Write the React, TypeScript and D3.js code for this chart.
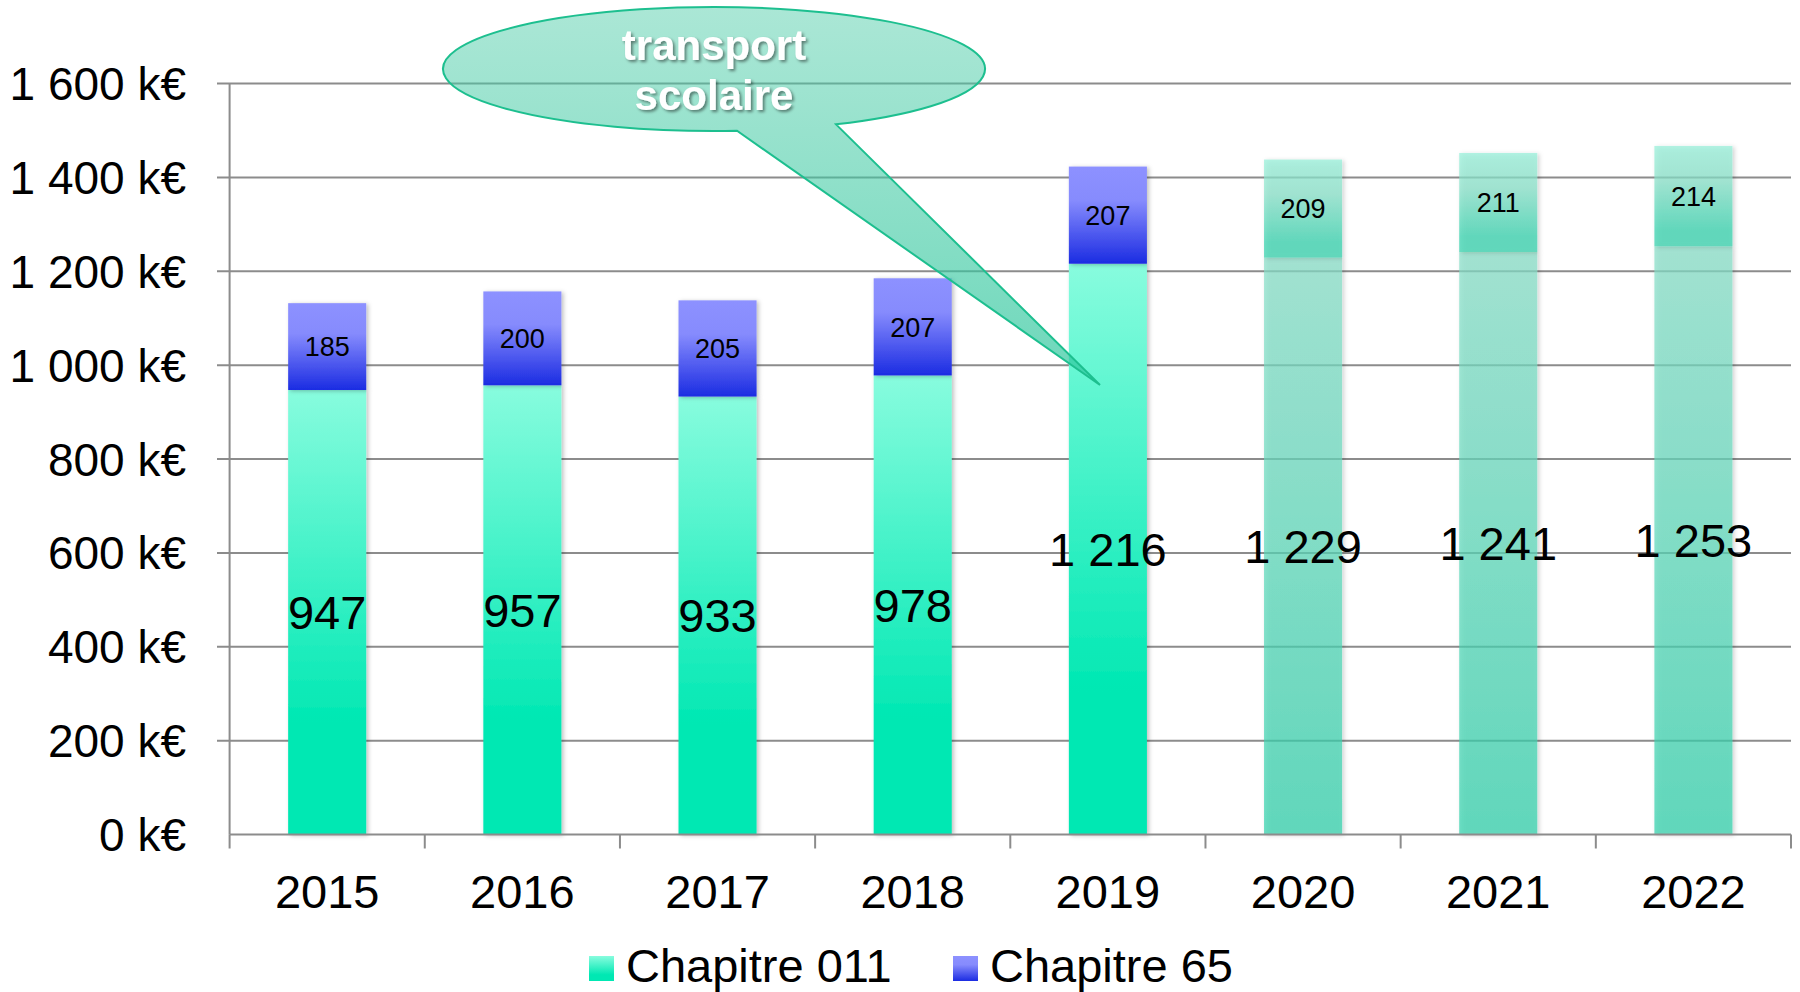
import { useEffect, useRef } from "react";
import * as d3 from "d3";

const years = ["2015", "2016", "2017", "2018", "2019", "2020", "2021", "2022"];
const projectedYears = ["2020", "2021", "2022"];
const chap011 = [947, 957, 933, 978, 1216, 1229, 1241, 1253];
const chap65 = [185, 200, 205, 207, 207, 209, 211, 214];
const yTicks = [0, 200, 400, 600, 800, 1000, 1200, 1400, 1600];
const seriesNames = ["Chapitre 011", "Chapitre 65"];
const calloutLines = ["transport", "scolaire"];

export default function App() {
  const svgRef = useRef<SVGSVGElement>(null);

  useEffect(() => {
    const W = 1800;
    const H = 992;
    const svg = d3.select(svgRef.current).attr("width", W).attr("height", H);
    svg.selectAll("*").remove();

    const font = "'Liberation Sans', Arial, sans-serif";
    const fr = d3.formatLocale({ decimal: ",", thousands: " ", grouping: [3], currency: ["", ""] });
    const fmt = fr.format(",d");

    const x = d3.scaleBand().domain(years).range([229.6, 1791]).paddingInner(0.6).paddingOuter(0.3);
    const y = d3.scaleLinear().domain([0, 1600]).range([834.5, 83.5]);

    // gradients + filters
    const defs = svg.append("defs");
    const grad = (id, stops) => {
      const g = defs.append("linearGradient").attr("id", id).attr("x1", 0).attr("y1", 0).attr("x2", 0).attr("y2", 1);
      stops.forEach(([o, c, op]) =>
        g.append("stop").attr("offset", o).attr("stop-color", c).attr("stop-opacity", op ?? 1)
      );
    };
    grad("g011", [[0, "#88fcde"], [0.75, "#00e8b3"], [1, "#00e8b3"]]);
    grad("g65", [[0, "#8d91ff"], [0.35, "#868bfd"], [1, "#1b2ce2"]]);
    grad("p011", [[0, "#87dec7", 0.7], [1, "#2ed0aa", 0.7]]);
    grad("p65", [[0, "#94efd8", 0.7], [0.35, "#85e0c7", 0.7], [0.85, "#2ed0aa", 0.7], [1, "#2ed0aa", 0.7]]);
    const cg = defs
      .append("linearGradient")
      .attr("id", "callout")
      .attr("gradientUnits", "userSpaceOnUse")
      .attr("x1", 0).attr("y1", 5).attr("x2", 0).attr("y2", 385);
    cg.append("stop").attr("offset", 0).attr("stop-color", "#50cda9").attr("stop-opacity", 0.48);
    cg.append("stop").attr("offset", 1).attr("stop-color", "#2cc69c").attr("stop-opacity", 0.7);

    const shadow = defs.append("filter").attr("id", "barShadow").attr("x", "-20%").attr("width", "150%");
    shadow.append("feDropShadow").attr("dx", 2).attr("dy", 1).attr("stdDeviation", 2)
      .attr("flood-color", "#000").attr("flood-opacity", 0.25);
    const tshadow = defs.append("filter").attr("id", "textShadow").attr("x", "-20%").attr("y", "-30%")
      .attr("width", "140%").attr("height", "160%");
    tshadow.append("feDropShadow").attr("dx", 2).attr("dy", 2).attr("stdDeviation", 1.5)
      .attr("flood-color", "#000").attr("flood-opacity", 0.45);

    // gridlines with ticks out to the left
    svg
      .append("g")
      .selectAll("line")
      .data(yTicks.filter((d) => d > 0))
      .join("line")
      .attr("x1", 217)
      .attr("x2", 1791)
      .attr("y1", (d) => y(d))
      .attr("y2", (d) => y(d))
      .attr("stroke", "#8c8c8c")
      .attr("stroke-width", 2);

    // y axis line
    svg.append("line")
      .attr("x1", 229.6).attr("x2", 229.6).attr("y1", y(1600)).attr("y2", y(0))
      .attr("stroke", "#8c8c8c").attr("stroke-width", 2);

    // y tick labels
    svg
      .append("g")
      .selectAll("text")
      .data(yTicks)
      .join("text")
      .attr("x", 186)
      .attr("y", (d) => y(d))
      .attr("dy", "0.36em")
      .attr("text-anchor", "end")
      .attr("font-family", font)
      .attr("font-size", 46)
      .attr("fill", "#000")
      .text((d) => `${fmt(d)} k€`);

    // bars
    const isProj = (yr) => projectedYears.includes(yr);
    const bars = svg.append("g");
    bars
      .selectAll("rect.s011")
      .data(years)
      .join("rect")
      .attr("class", "s011")
      .attr("x", (d) => x(d))
      .attr("width", x.bandwidth())
      .attr("y", (d, i) => y(chap011[i]))
      .attr("height", (d, i) => y(0) - y(chap011[i]))
      .attr("fill", (d) => (isProj(d) ? "url(#p011)" : "url(#g011)"))
      .attr("filter", "url(#barShadow)");
    bars
      .selectAll("rect.s65")
      .data(years)
      .join("rect")
      .attr("class", "s65")
      .attr("x", (d) => x(d))
      .attr("width", x.bandwidth())
      .attr("y", (d, i) => y(chap011[i] + chap65[i]))
      .attr("height", (d, i) => y(chap011[i]) - y(chap011[i] + chap65[i]))
      .attr("fill", (d) => (isProj(d) ? "url(#p65)" : "url(#g65)"))
      .attr("filter", "url(#barShadow)");

    // x axis
    svg.append("line")
      .attr("x1", 229.6).attr("x2", 1791).attr("y1", y(0)).attr("y2", y(0))
      .attr("stroke", "#8c8c8c").attr("stroke-width", 2);
    const step = x.step();
    const bounds = d3.range(years.length + 1).map((i) => 229.6 + i * step);
    svg
      .append("g")
      .selectAll("line")
      .data(bounds)
      .join("line")
      .attr("x1", (d) => d)
      .attr("x2", (d) => d)
      .attr("y1", y(0))
      .attr("y2", y(0) + 14)
      .attr("stroke", "#8c8c8c")
      .attr("stroke-width", 2);
    svg
      .append("g")
      .selectAll("text")
      .data(years)
      .join("text")
      .attr("x", (d) => x(d) + x.bandwidth() / 2)
      .attr("y", 891)
      .attr("dy", "0.36em")
      .attr("text-anchor", "middle")
      .attr("font-family", font)
      .attr("font-size", 47)
      .text((d) => d);

    // value labels
    svg
      .append("g")
      .selectAll("text")
      .data(years)
      .join("text")
      .attr("x", (d) => x(d) + x.bandwidth() / 2)
      .attr("y", (d, i) => y(chap011[i] / 2))
      .attr("dy", "0.36em")
      .attr("text-anchor", "middle")
      .attr("font-family", font)
      .attr("font-size", 47)
      .text((d, i) => fmt(chap011[i]));
    svg
      .append("g")
      .selectAll("text")
      .data(years)
      .join("text")
      .attr("x", (d) => x(d) + x.bandwidth() / 2)
      .attr("y", (d, i) => y(chap011[i] + chap65[i] / 2))
      .attr("dy", "0.36em")
      .attr("text-anchor", "middle")
      .attr("font-family", font)
      .attr("font-size", 27)
      .text((d, i) => fmt(chap65[i]));

    // callout bubble
    const cx = 714, cy = 69, rx = 271, ry = 62;
    const onEllipse = (px) => cy + ry * Math.sqrt(1 - ((px - cx) / rx) ** 2);
    const bl = [737, onEllipse(737)];
    const br = [836, onEllipse(836)];
    const tip = [1100, 385];
    const d = `M${br[0]},${br[1]} A${rx},${ry} 0 1 0 ${bl[0]},${bl[1]} L${tip[0]},${tip[1]} Z`;
    svg.append("path")
      .attr("d", d)
      .attr("fill", "url(#callout)")
      .attr("stroke", "#1dbf8f")
      .attr("stroke-width", 2);
    svg
      .append("g")
      .attr("filter", "url(#textShadow)")
      .selectAll("text")
      .data(calloutLines)
      .join("text")
      .attr("x", cx)
      .attr("y", (t, i) => 60 + i * 50)
      .attr("text-anchor", "middle")
      .attr("font-family", font)
      .attr("font-weight", "bold")
      .attr("font-size", 42)
      .attr("fill", "#fff")
      .text((t) => t);

    // legend
    const legend = svg.append("g");
    const legX = [589, 953];
    seriesNames.forEach((name, i) => {
      legend.append("rect")
        .attr("x", legX[i]).attr("y", 956).attr("width", 25).attr("height", 25)
        .attr("fill", i === 0 ? "url(#g011)" : "url(#g65)");
      legend.append("text")
        .attr("x", legX[i] + 37).attr("y", 965).attr("dy", "0.36em")
        .attr("font-family", font).attr("font-size", 47)
        .text(name);
    });
  }, []);

  return (
    <div>
      <svg ref={svgRef} style={{ position: "absolute", left: 0, top: 0, background: "#fff" }}></svg>
    </div>
  );
}
